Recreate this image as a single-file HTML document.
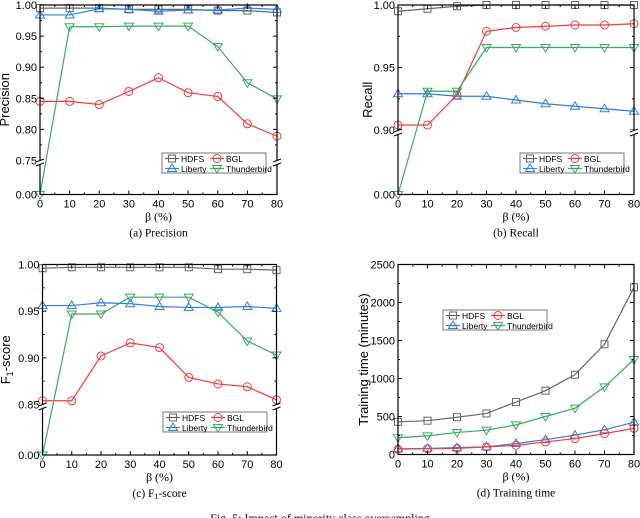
<!DOCTYPE html>
<html><head><meta charset="utf-8"><style>
body{margin:0;background:#fff;width:640px;height:518px;overflow:hidden}
svg{display:block;font-family:"Liberation Sans",sans-serif}
</style></head><body>
<svg id="s" width="640" height="518"></svg>
<script>
const betas=[0,10,20,30,40,50,60,70,80];
const seriesNames=["HDFS","BGL","Liberty","Thunderbird"];
const precHDFS=[0.995,0.995,0.995,0.993,0.993,0.993,0.991,0.991,0.988];
const precBGL=[0.845,0.845,0.840,0.861,0.883,0.859,0.853,0.809,0.789];
const precLiberty=[0.984,0.984,0.994,0.993,0.990,0.992,0.992,0.995,0.993];
const precThunder=[0,0.965,0.965,0.966,0.966,0.966,0.933,0.875,0.849];
const recHDFS=[0.995,0.997,0.999,1,1,1,1,1,1];
const recBGL=[0.904,0.904,0.928,0.979,0.982,0.983,0.984,0.984,0.985];
const recLiberty=[0.929,0.929,0.927,0.927,0.924,0.921,0.919,0.917,0.915];
const recThunder=[0,0.931,0.931,0.966,0.966,0.966,0.966,0.966,0.966];
const f1HDFS=[0.996,0.997,0.997,0.997,0.997,0.997,0.995,0.995,0.994];
const f1BGL=[0.854,0.854,0.902,0.916,0.911,0.879,0.872,0.869,0.855];
const f1Liberty=[0.956,0.956,0.959,0.958,0.955,0.954,0.954,0.955,0.953];
const f1Thunder=[0,0.947,0.947,0.965,0.965,0.965,0.949,0.918,0.903];
const timeHDFS=[430,445,490,540,690,840,1050,1450,2200];
const timeBGL=[70,75,80,100,120,165,210,275,345];
const timeLiberty=[75,80,90,100,145,195,255,325,425];
const timeThunder=[220,245,290,320,390,500,610,890,1250];
const xTicks=[0,10,20,30,40,50,60,70,80];
const precTicks=["0.75","0.80","0.85","0.90","0.95","1.00"];
const recTicks=["0.90","0.95","1.00"];
const f1Ticks=["0.85","0.90","0.95","1.00"];
const timeTicks=[0,500,1000,1500,2000,2500];

const NS="http://www.w3.org/2000/svg";
const svg=document.getElementById('s');
function el(t,a,p){const e=document.createElementNS(NS,t);for(const k in a)e.setAttribute(k,a[k]);(p||svg).appendChild(e);return e;}
function txt(x,y,s,a,p){const e=el('text',Object.assign({x:x,y:y,'font-size':11,fill:'#000'},a||{}),p);e.textContent=s;return e;}
const COL={HDFS:'#666',BGL:'#f03c3c',Liberty:'#2f7fe0',Thunderbird:'#3aaa60'};
function marker(g,name,x,y){
  const c=COL[name];let m;
  if(name==='HDFS')m=el('rect',{x:x-3.5,y:y-3.5,width:7,height:7,fill:'none',stroke:c},g);
  else if(name==='BGL')m=el('circle',{cx:x,cy:y,r:4,fill:'none',stroke:c},g);
  else if(name==='Liberty')m=el('polygon',{points:`${x},${y-4.5} ${x-4.5},${y+3} ${x+4.5},${y+3}`,fill:'none',stroke:c},g);
  else m=el('polygon',{points:`${x},${y+4.5} ${x-4.5},${y-3} ${x+4.5},${y-3}`,fill:'none',stroke:c},g);
  
  
}
function chart(o){
  const g=el('g',{});
  
  
  const X=v=>o.x0+(v-0)/80*(o.x1-o.x0);
  const Y=o.Y;
  o.series.forEach(([name,vals])=>{
    const sg=el('g',{},g);
    
    
    el('polyline',{points:vals.map((v,i)=>X(betas[i])+','+Y(v)).join(' '),fill:'none',stroke:COL[name],'stroke-width':1.2},sg);
    vals.forEach((v,i)=>marker(sg,name,X(betas[i]),Y(v)));
  });
  const fr=el('rect',{x:o.x0,y:o.yt,width:o.x1-o.x0,height:o.yb-o.yt,fill:'none',stroke:'#000','stroke-width':1.2},g);
  
  xTicks.forEach(t=>{
    const x=X(t);
    el('line',{x1:x,y1:o.yb,x2:x,y2:o.yb-4,stroke:'#000'},g);
    el('line',{x1:x,y1:o.yt,x2:x,y2:o.yt+4,stroke:'#000'},g);
    if(t<80){const xm=X(t+5);el('line',{x1:xm,y1:o.yb,x2:xm,y2:o.yb-2,stroke:'#000'},g);el('line',{x1:xm,y1:o.yt,x2:xm,y2:o.yt+2,stroke:'#000'},g);}
    const tl=txt(x,o.yb+13,String(t),{'text-anchor':'middle'},g);
    
  });
  o.yticks.forEach(t=>{
    const y=Y(+t);
    el('line',{x1:o.x0,y1:y,x2:o.x0+4,y2:y,stroke:'#000'},g);
    el('line',{x1:o.x1,y1:y,x2:o.x1-4,y2:y,stroke:'#000'},g);
    const tl=txt(o.x0-3,y+4,String(t),{'text-anchor':'end'},g);
    
  });
  (o.minor||[]).forEach(v=>{const y=Y(v);el('line',{x1:o.x0,y1:y,x2:o.x0+2,y2:y,stroke:'#000'},g);el('line',{x1:o.x1,y1:y,x2:o.x1-2,y2:y,stroke:'#000'},g);});
  if(o.brk!==undefined){
    const yb=o.brkY;
    [o.x0,o.x1].forEach(x=>{
      el('rect',{x:x-4,y:yb-3,width:8,height:5,fill:'#fff'},g);
      el('line',{x1:x-4,y1:yb-1,x2:x+4,y2:yb-4,stroke:'#000'},g);
      el('line',{x1:x-4,y1:yb+3,x2:x+4,y2:yb,stroke:'#000'},g);
    });
    el('text',{x:o.x0-3,y:o.yb+4,'font-size':11,'text-anchor':'end'},g).textContent='0.00';
  }
  const xl=txt((o.x0+o.x1)/2,o.yb+26,'β (%)',{'text-anchor':'middle','font-size':12,'font-family':'Liberation Serif, serif'},g);
  
  const yl=el('text',{x:0,y:0,'font-size':o.ylfs||13,'text-anchor':'middle',transform:`translate(${o.ylx},${(o.yt+o.yb)/2}) rotate(-90)`},g);
  yl.innerHTML=o.ylabel;
  
  const cap=txt((o.x0+o.x1)/2,o.yb+42,o.caption,{'text-anchor':'middle','font-family':'Liberation Serif, serif','font-size':11.5},g);
  cap.innerHTML=o.caption;
  
  const L=el('g',{},g);
  
  const lx=o.leg[0],ly=o.leg[1];
  el('rect',{x:lx,y:ly,width:104,height:20,fill:'#fff',stroke:'#555','stroke-width':0.8},L);
  [["HDFS",0,0],["BGL",45,0],["Liberty",0,10],["Thunderbird",45,10]].forEach(([n,dx,dy])=>{
    const e=el('g',{},L);
    
    el('line',{x1:lx+3+dx,y1:ly+5.5+dy,x2:lx+17+dx,y2:ly+5.5+dy,stroke:COL[n],'stroke-width':1.2},e);
    marker(e,n,lx+10+dx,ly+5.5+dy);
    txt(lx+19+dx,ly+9+dy,n,{'font-size':8.5},e);
  });
}
function brokenY(top,lo,hi,brkY,bot){return v=>v>=lo?brkY-(v-lo)/(hi-lo)*(brkY-top):bot-(v/lo)*(bot-brkY);}
chart({name:'precision-chart',x0:40,x1:277,yt:5,yb:194.5,Y:brokenY(5,0.75,1.0,160.5,194.5),brk:0.75,brkY:163,
  yticks:precTicks,minor:[0.775,0.825,0.875,0.925,0.975],ylabel:'Precision',ylx:9,caption:'(a) Precision',leg:[162,153],
  series:[["HDFS",precHDFS],["Liberty",precLiberty],["BGL",precBGL],["Thunderbird",precThunder]]});
chart({name:'recall-chart',x0:398,x1:634,yt:5,yb:194.5,Y:brokenY(5,0.9,1.0,130,194.5),brk:0.9,brkY:133,
  yticks:recTicks,minor:[0.925,0.975],ylabel:'Recall',ylx:372,caption:'(b) Recall',leg:[520,153],
  series:[["HDFS",recHDFS],["Liberty",recLiberty],["BGL",recBGL],["Thunderbird",recThunder]]});
chart({name:'f1-chart',x0:42.5,x1:276.5,yt:264.5,yb:455,Y:brokenY(264.5,0.85,1.0,404.5,455),brk:0.85,brkY:407,
  yticks:f1Ticks,minor:[0.875,0.925,0.975],ylabel:'F<tspan font-size="9" dy="3">1</tspan><tspan dy="-3">-score</tspan>',ylx:10,caption:'(c) F<tspan font-size="8" dy="2">1</tspan><tspan dy="-2">-score</tspan>',leg:[163,412],
  series:[["HDFS",f1HDFS],["Liberty",f1Liberty],["BGL",f1BGL],["Thunderbird",f1Thunder]]});
chart({name:'training-time-chart',x0:398,x1:634,yt:264.5,yb:454.5,Y:v=>454.5-v/2500*190,
  yticks:timeTicks,minor:[250,750,1250,1750,2250],ylabel:'Training time (minutes)',ylx:368,caption:'(d) Training time',leg:[443,310],
  series:[["HDFS",timeHDFS],["Liberty",timeLiberty],["BGL",timeBGL],["Thunderbird",timeThunder]]});
const fc=txt(320,522,'Fig. 5: Impact of minority class oversampling',{'text-anchor':'middle','font-family':'Liberation Serif, serif','font-size':12});


</script>
</body></html>
